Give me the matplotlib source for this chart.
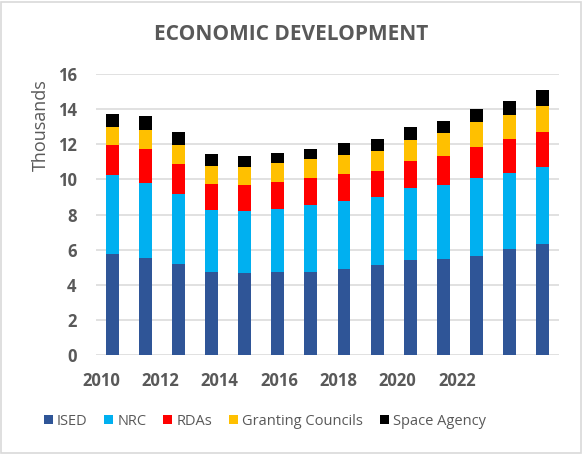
import numpy as np
import matplotlib
matplotlib.use('Agg')
import matplotlib.pyplot as plt

# Dados (milhares)
anos = np.arange(2010, 2024)
ised = [5.75, 5.52, 5.18, 4.73, 4.67, 4.73, 4.73, 4.90, 5.13, 5.41, 5.47, 5.64, 6.04, 6.32]
nrc = [4.50, 4.28, 3.99, 3.53, 3.53, 3.58, 3.81, 3.87, 3.87, 4.10, 4.21, 4.44, 4.32, 4.38]
rdas = [1.71, 1.93, 1.71, 1.48, 1.48, 1.54, 1.54, 1.54, 1.48, 1.54, 1.65, 1.76, 1.94, 2.00]
granting = [1.02, 1.08, 1.08, 1.02, 1.02, 1.08, 1.08, 1.08, 1.14, 1.19, 1.31, 1.43, 1.37, 1.48]
space = [0.74, 0.80, 0.74, 0.69, 0.63, 0.57, 0.57, 0.68, 0.68, 0.74, 0.68, 0.74, 0.79, 0.91]
series = ['ISED', 'NRC', 'RDAs', 'Granting Councils', 'Space Agency']
cores = ['#2F5597', '#00B0F0', '#FF0000', '#FFC000', '#000000']
rotulos_x = ['2010', '2012', '2014', '2016', '2018', '2020', '2022']

cinza = '#595959'
plt.rcParams['font.family'] = ['Open Sans', 'DejaVu Sans']

fig = plt.figure(figsize=(5.83, 4.54), dpi=100)
ax = fig.add_axes([0.1647, 0.218, 0.794, 0.619])

base = np.zeros(len(anos))
for vals, nome, cor in zip([ised, nrc, rdas, granting, space], series, cores):
    ax.bar(anos, vals, bottom=base, width=0.39, color=cor, label=nome, zorder=3)
    base = base + np.array(vals)

ax.set_xlim(2009.5, 2023.5)
ax.set_ylim(0, 16)
ax.set_yticks(np.arange(0, 17, 2))
ax.yaxis.grid(True, color='#D9D9D9', linewidth=1.1, zorder=0)
for s in ax.spines.values():
    s.set_visible(False)
ax.tick_params(length=0, colors=cinza, labelsize=12)
ax.tick_params(axis='y', pad=14)
ax.tick_params(axis='x', pad=12)
for t in ax.get_yticklabels():
    t.set_fontweight('bold')

# rotulos do eixo x (no original ficam um pouco deslocados das barras)
pos_x = 2009.65 + np.arange(len(rotulos_x)) * 2 * 0.897
ax.set_xticks(pos_x)
ax.set_xticklabels(rotulos_x, fontweight='bold', color=cinza, fontsize=12)

fig.text(0.5, 0.923, 'ECONOMIC DEVELOPMENT', ha='center', va='center',
         fontsize=15, fontweight='bold', color=cinza)
fig.text(0.070, 0.7236, 'Thousands', rotation=90, ha='center', va='center',
         fontsize=13, color=cinza)

ax.legend(loc='center', bbox_to_anchor=(0.365, -0.235), ncol=5, frameon=False,
          fontsize=10.5, labelcolor=cinza, handlelength=0.6, handleheight=0.6,
          handletextpad=0.3, columnspacing=1.15)

fig.patches.append(plt.Rectangle((0.002, 0.003), 0.995, 0.993, transform=fig.transFigure,
                                 fill=False, edgecolor='#D9D9D9', linewidth=1.2))

fig.savefig('out.png', dpi=100)
